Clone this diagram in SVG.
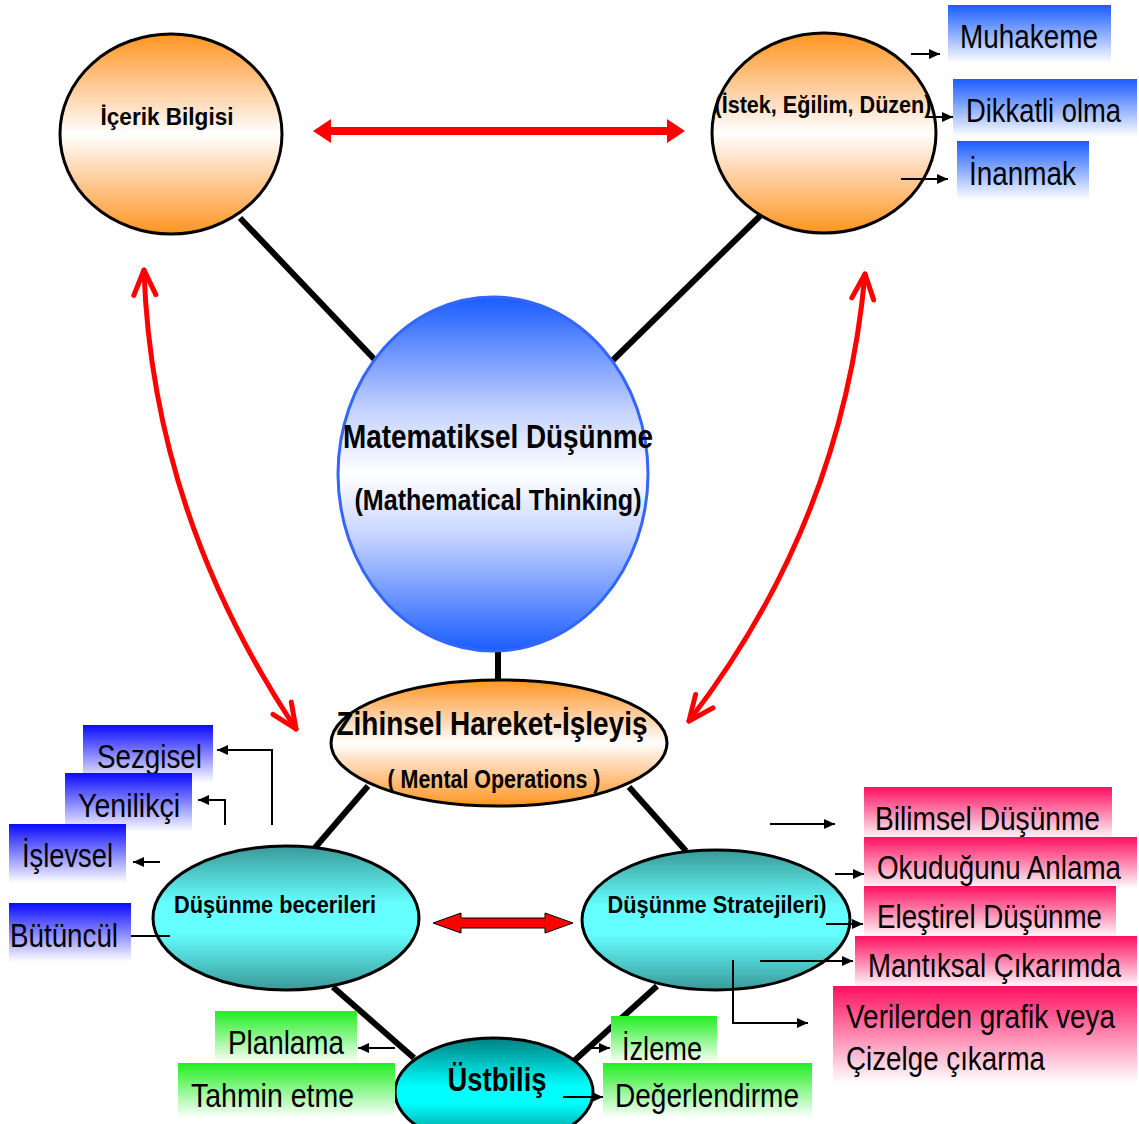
<svg xmlns="http://www.w3.org/2000/svg" width="1139" height="1124" viewBox="0 0 1139 1124">
<defs>
<style>
.lbl{font-family:"Liberation Sans Narrow","Liberation Sans",Arial,sans-serif;font-size:34px;fill:#000}
.nt{font-family:"Liberation Sans Narrow","Liberation Sans",Arial,sans-serif;font-weight:bold;fill:#000}
.conn{stroke:#000;stroke-width:6;fill:none}
.thin{stroke:#000;stroke-width:2;fill:none}
.red{stroke:#FF0000;stroke-width:5;fill:none;stroke-linecap:round}
.node{stroke:#000;stroke-width:3}
</style>
<linearGradient id="gOr" x1="0" y1="0" x2="0" y2="1">
<stop offset="0" stop-color="#FF9520"/><stop offset="0.3" stop-color="#FFD2A8"/><stop offset="0.5" stop-color="#FFFFFF"/><stop offset="0.7" stop-color="#FFD2A8"/><stop offset="1" stop-color="#FF9520"/>
</linearGradient>
<linearGradient id="gBl" x1="0" y1="0" x2="0" y2="1">
<stop offset="0" stop-color="#1A5CFF"/><stop offset="0.32" stop-color="#C4D2FF"/><stop offset="0.5" stop-color="#FFFFFF"/><stop offset="0.68" stop-color="#C4D2FF"/><stop offset="1" stop-color="#1A5CFF"/>
</linearGradient>
<linearGradient id="gCy" x1="0" y1="0" x2="0" y2="1">
<stop offset="0" stop-color="#3A9999"/><stop offset="0.4" stop-color="#66FFFF"/><stop offset="0.6" stop-color="#66FFFF"/><stop offset="1" stop-color="#3A9999"/>
</linearGradient>
<linearGradient id="gCy2" x1="0" y1="0" x2="0" y2="1">
<stop offset="0" stop-color="#008080"/><stop offset="0.45" stop-color="#00FFFF"/><stop offset="0.6" stop-color="#00FFFF"/><stop offset="1" stop-color="#008080"/>
</linearGradient>
<linearGradient id="lBl" x1="0" y1="0" x2="0" y2="1"><stop offset="0" stop-color="#1A5CFF"/><stop offset="1" stop-color="#FFFFFF"/></linearGradient>
<linearGradient id="lBl2" x1="0" y1="0" x2="0" y2="1"><stop offset="0" stop-color="#0A0AFF"/><stop offset="1" stop-color="#FFFFFF"/></linearGradient>
<linearGradient id="lPk" x1="0" y1="0" x2="0" y2="1"><stop offset="0" stop-color="#FF1060"/><stop offset="1" stop-color="#FFFFFF"/></linearGradient>
<linearGradient id="lGr" x1="0" y1="0" x2="0" y2="1"><stop offset="0" stop-color="#22EE22"/><stop offset="1" stop-color="#FFFFFF"/></linearGradient>
<marker id="ah" markerUnits="userSpaceOnUse" markerWidth="11" markerHeight="10" viewBox="0 0 11 10" refX="11" refY="5" orient="auto">
<path d="M0,0 L11,5 L0,10 z" fill="#000"/>
</marker>
<marker id="rv" markerUnits="userSpaceOnUse" markerWidth="32" markerHeight="32" viewBox="0 0 32 32" refX="28" refY="16" orient="auto-start-reverse">
<path d="M3,5 L28,16 L3,27" fill="none" stroke="#FF0000" stroke-width="5" stroke-linecap="round" stroke-linejoin="round"/>
</marker>
</defs>

<rect width="1139" height="1124" fill="#FFFFFF"/>

<g id="connectors">
<line class="conn" x1="240" y1="218" x2="377" y2="362"/>
<line class="conn" x1="760" y1="216" x2="611" y2="362"/>
<line class="conn" x1="498" y1="648" x2="498" y2="682"/>
<line class="conn" x1="368" y1="786" x2="313" y2="850"/>
<line class="conn" x1="629" y1="787" x2="686" y2="851"/>
<line class="conn" x1="333" y1="987" x2="414" y2="1058"/>
<line class="conn" x1="657" y1="986" x2="575" y2="1060"/>
<polygon points="313,131 331,119 331,127 667,127 667,119 685,131 667,143 667,135 331,135 331,143" fill="#FF0000"/>
<path class="red" d="M144,270 C150,450 210,600 296,729" marker-start="url(#rv)" marker-end="url(#rv)"/>
<path class="red" d="M865,274 C850,440 790,590 689,721" marker-start="url(#rv)" marker-end="url(#rv)"/>
<polygon points="433,923 461,913 461,918 545,918 545,913 573,923 545,933 545,928 461,928 461,933" fill="#FF0000" stroke="#000" stroke-width="1"/>
</g>

<g id="node-icerik">
<ellipse class="node" cx="171" cy="134" rx="111" ry="100" fill="url(#gOr)"/>
<text class="nt" x="167" y="125" font-size="23" text-anchor="middle" textLength="133" lengthAdjust="spacingAndGlyphs">İçerik Bilgisi</text>
</g>

<g id="node-istek">
<ellipse class="node" cx="824" cy="133" rx="112" ry="100" fill="url(#gOr)"/>
<text class="nt" x="823" y="113" font-size="23" text-anchor="middle" textLength="217" lengthAdjust="spacingAndGlyphs">(İstek, Eğilim, Düzen)</text>
</g>

<g id="node-matematiksel">
<ellipse cx="493" cy="474" rx="155" ry="177" fill="url(#gBl)" stroke="#3366FF" stroke-width="3"/>
<text class="nt" x="498" y="448" font-size="34" text-anchor="middle" textLength="310" lengthAdjust="spacingAndGlyphs">Matematiksel Düşünme</text>
<text class="nt" x="498" y="510" font-size="30" text-anchor="middle" textLength="287" lengthAdjust="spacingAndGlyphs">(Mathematical Thinking)</text>
</g>

<g id="node-zihinsel">
<ellipse class="node" cx="499" cy="743" rx="168" ry="63" fill="url(#gOr)"/>
<text class="nt" x="492" y="735" font-size="34" text-anchor="middle" textLength="311" lengthAdjust="spacingAndGlyphs">Zihinsel Hareket-İşleyiş</text>
<text class="nt" x="494" y="788" font-size="26" text-anchor="middle" textLength="213" lengthAdjust="spacingAndGlyphs">( Mental Operations )</text>
</g>

<g id="node-beceriler">
<ellipse class="node" cx="286" cy="918" rx="133" ry="72" fill="url(#gCy)"/>
<text class="nt" x="275" y="913" font-size="24" text-anchor="middle" textLength="202" lengthAdjust="spacingAndGlyphs">Düşünme becerileri</text>
</g>

<g id="node-stratejiler">
<ellipse class="node" cx="716" cy="920" rx="134" ry="70" fill="url(#gCy)"/>
<text class="nt" x="717" y="913" font-size="24" text-anchor="middle" textLength="219" lengthAdjust="spacingAndGlyphs">Düşünme Stratejileri)</text>
</g>

<g id="node-ustbilis">
<ellipse class="node" cx="494" cy="1092" rx="99" ry="54" fill="url(#gCy2)"/>
<text class="nt" x="497" y="1091" font-size="33" text-anchor="middle" textLength="99" lengthAdjust="spacingAndGlyphs">Üstbiliş</text>
</g>

<g id="label-muhakeme">
<rect x="948" y="5" width="163" height="58" fill="url(#lBl)"/>
<text class="lbl" transform="translate(960,48) scale(0.8,1)" textLength="172.5" lengthAdjust="spacingAndGlyphs">Muhakeme</text>
</g>
<g id="label-dikkatli">
<rect x="953" y="79" width="184" height="58" fill="url(#lBl)"/>
<text class="lbl" transform="translate(966,122) scale(0.8,1)" textLength="193.75" lengthAdjust="spacingAndGlyphs">Dikkatli olma</text>
</g>
<g id="label-inanmak">
<rect x="957" y="141" width="132" height="59" fill="url(#lBl)"/>
<text class="lbl" transform="translate(969,185) scale(0.8,1)" textLength="133.75" lengthAdjust="spacingAndGlyphs">İnanmak</text>
</g>

<g id="label-sezgisel">
<rect x="83" y="725" width="130" height="58" fill="url(#lBl2)"/>
<text class="lbl" transform="translate(97,768) scale(0.8,1)" textLength="131.25" lengthAdjust="spacingAndGlyphs">Sezgisel</text>
</g>
<g id="label-yenilikci">
<rect x="65" y="773" width="127" height="59" fill="url(#lBl2)"/>
<text class="lbl" transform="translate(78,817) scale(0.8,1)" textLength="127.5" lengthAdjust="spacingAndGlyphs">Yenilikçi</text>
</g>
<g id="label-islevsel">
<rect x="9" y="824" width="117" height="59" fill="url(#lBl2)"/>
<text class="lbl" transform="translate(22,867) scale(0.8,1)" textLength="113.75" lengthAdjust="spacingAndGlyphs">İşlevsel</text>
</g>
<g id="label-butuncul">
<rect x="9" y="903" width="122" height="59" fill="url(#lBl2)"/>
<text class="lbl" transform="translate(10,947) scale(0.8,1)" textLength="135" lengthAdjust="spacingAndGlyphs">Bütüncül</text>
</g>

<g id="label-bilimsel">
<rect x="864" y="787" width="248" height="53" fill="url(#lPk)"/>
<text class="lbl" transform="translate(875,830) scale(0.8,1)" textLength="281.25" lengthAdjust="spacingAndGlyphs">Bilimsel Düşünme</text>
</g>
<g id="label-okudugunu">
<rect x="864" y="837" width="273" height="52" fill="url(#lPk)"/>
<text class="lbl" transform="translate(877,879) scale(0.8,1)" textLength="305" lengthAdjust="spacingAndGlyphs">Okuduğunu Anlama</text>
</g>
<g id="label-elestirel">
<rect x="864" y="886" width="252" height="52" fill="url(#lPk)"/>
<text class="lbl" transform="translate(877,928) scale(0.8,1)" textLength="281.25" lengthAdjust="spacingAndGlyphs">Eleştirel Düşünme</text>
</g>
<g id="label-mantiksal">
<rect x="855" y="936" width="282" height="52" fill="url(#lPk)"/>
<text class="lbl" transform="translate(868,977) scale(0.8,1)" textLength="316.25" lengthAdjust="spacingAndGlyphs">Mantıksal Çıkarımda</text>
</g>
<g id="label-verilerden">
<rect x="833" y="986" width="304" height="97" fill="url(#lPk)"/>
<text class="lbl" transform="translate(846,1028) scale(0.8,1)" textLength="336.25" lengthAdjust="spacingAndGlyphs">Verilerden grafik veya</text>
<text class="lbl" transform="translate(846,1070) scale(0.8,1)" textLength="248.75" lengthAdjust="spacingAndGlyphs">Çizelge çıkarma</text>
</g>

<g id="label-planlama">
<rect x="215" y="1011" width="142" height="53" fill="url(#lGr)"/>
<text class="lbl" transform="translate(228,1054) scale(0.8,1)" textLength="145" lengthAdjust="spacingAndGlyphs">Planlama</text>
</g>
<g id="label-tahmin">
<rect x="178" y="1063" width="217" height="55" fill="url(#lGr)"/>
<text class="lbl" transform="translate(191,1107) scale(0.8,1)" textLength="203.75" lengthAdjust="spacingAndGlyphs">Tahmin etme</text>
</g>
<g id="label-izleme">
<rect x="611" y="1016" width="106" height="48" fill="url(#lGr)"/>
<text class="lbl" transform="translate(622,1060) scale(0.8,1)" textLength="100" lengthAdjust="spacingAndGlyphs">İzleme</text>
</g>
<g id="label-degerlendirme">
<rect x="603" y="1063" width="209" height="55" fill="url(#lGr)"/>
<text class="lbl" transform="translate(615,1107) scale(0.8,1)" textLength="230" lengthAdjust="spacingAndGlyphs">Değerlendirme</text>
</g>

<g id="label-connectors">
<line class="thin" x1="911" y1="54" x2="940" y2="54" marker-end="url(#ah)"/>
<line class="thin" x1="927" y1="117" x2="953" y2="117" marker-end="url(#ah)"/>
<line class="thin" x1="901" y1="179" x2="948" y2="179" marker-end="url(#ah)"/>
<polyline class="thin" stroke-width="1.5" points="272,825 272,750 217,750" marker-end="url(#ah)"/>
<polyline class="thin" stroke-width="1.5" points="225,825 225,800 198,800" marker-end="url(#ah)"/>
<line class="thin" x1="160" y1="862" x2="133" y2="862" marker-end="url(#ah)"/>
<line class="thin" stroke-width="1.5" x1="131" y1="936" x2="170" y2="936"/>
<line class="thin" x1="770" y1="824" x2="835" y2="824" marker-end="url(#ah)"/>
<line class="thin" x1="835" y1="874" x2="864" y2="874" marker-end="url(#ah)"/>
<line class="thin" x1="826" y1="924" x2="863" y2="924" marker-end="url(#ah)"/>
<line class="thin" x1="760" y1="961" x2="853" y2="961" marker-end="url(#ah)"/>
<polyline class="thin" stroke-width="1.5" points="733,960 733,1023 808,1023" marker-end="url(#ah)"/>
<line class="thin" x1="395" y1="1048" x2="358" y2="1048" marker-end="url(#ah)"/>
<line class="thin" x1="585" y1="1048" x2="610" y2="1048" marker-end="url(#ah)"/>
<line class="thin" x1="563" y1="1097" x2="603" y2="1097" marker-end="url(#ah)"/>
</g>
</svg>
